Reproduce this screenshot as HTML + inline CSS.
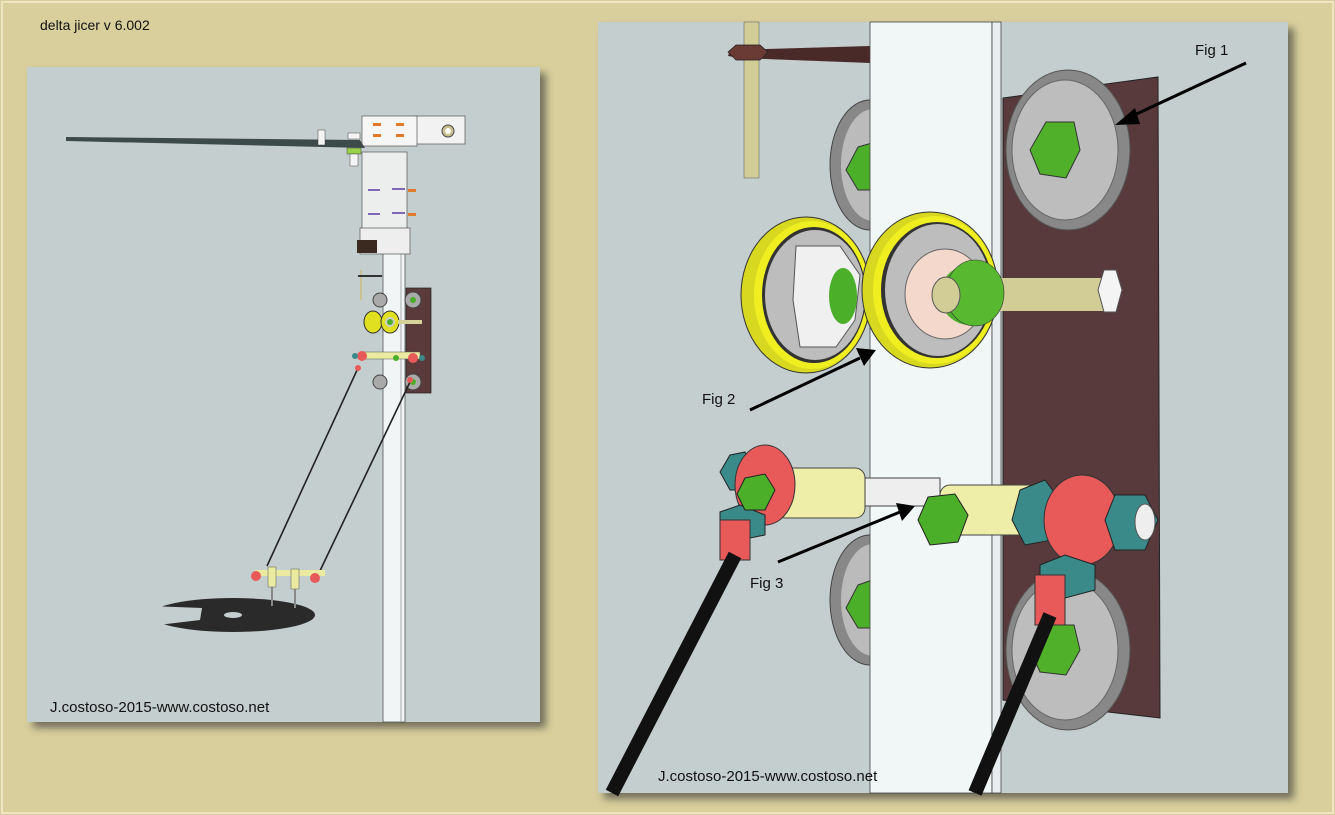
<!DOCTYPE html>
<html><head><style>
html,body{margin:0;padding:0;}
body{width:1335px;height:815px;background:#d8cf9c;position:relative;overflow:hidden;font-family:"Liberation Sans",sans-serif;}
</style></head><body>
<svg width="1335" height="815" viewBox="0 0 1335 815" xmlns="http://www.w3.org/2000/svg" style="position:absolute;left:0;top:0">
<defs>
<filter id="sh" x="-5%" y="-5%" width="115%" height="115%"><feGaussianBlur stdDeviation="4"/></filter>
</defs>
<rect x="0" y="0" width="1335" height="815" fill="#d8cf9c"/>
<rect x="2" y="2" width="1331" height="811" fill="none" stroke="#eee6c0" stroke-width="2"/>
<text x="40" y="30" font-size="14" fill="#111">delta jicer v 6.002</text>

<!-- left panel -->
<rect x="33" y="73" width="513" height="655" fill="#333" opacity="0.6" filter="url(#sh)"/>
<rect x="27" y="67" width="513" height="655" fill="#c5cecf"/>
<rect x="383" y="160" width="22" height="562" fill="#f1f5f6" stroke="#555" stroke-width="0.8"/>
<line x1="401" y1="160" x2="401" y2="722" stroke="#777" stroke-width="0.6"/>
<rect x="362" y="152" width="45" height="92" fill="#eceeee" stroke="#555" stroke-width="0.7"/>
<rect x="415" y="116" width="50" height="28" fill="#f2f2f2" stroke="#555" stroke-width="0.7"/>
<rect x="362" y="116" width="55" height="30" fill="#f6f6f6" stroke="#555" stroke-width="0.7"/>
<circle cx="448" cy="131" r="6" fill="#c8c090" stroke="#444"/>
<circle cx="448" cy="131" r="3" fill="#fff"/>
<polygon points="66,137 360,140 365,148 66,141" fill="#3d4a4a"/>
<rect x="318" y="130" width="7" height="15" fill="#f5f5f5" stroke="#444" stroke-width="0.5"/>
<rect x="348" y="133" width="12" height="6" fill="#f5f5f5" stroke="#444" stroke-width="0.5"/>
<rect x="347" y="148" width="14" height="6" fill="#9ad04a" stroke="#444" stroke-width="0.5"/>
<rect x="350" y="154" width="8" height="12" fill="#f5f5f5" stroke="#444" stroke-width="0.5"/>
<g fill="#e07a2a"><rect x="373" y="123" width="8" height="3"/><rect x="373" y="134" width="8" height="3"/><rect x="396" y="123" width="8" height="3"/><rect x="396" y="134" width="8" height="3"/><rect x="408" y="189" width="8" height="3"/><rect x="408" y="213" width="8" height="3"/><rect x="372" y="236" width="8" height="3"/><rect x="372" y="247" width="8" height="3"/></g>
<g stroke="#5a3aa0" stroke-width="1.5"><line x1="368" y1="190" x2="380" y2="190"/><line x1="392" y1="189" x2="405" y2="189"/><line x1="368" y1="214" x2="380" y2="214"/><line x1="392" y1="213" x2="405" y2="213"/></g>
<rect x="360" y="228" width="50" height="26" fill="#eeeeee" stroke="#555" stroke-width="0.7"/>
<rect x="357" y="240" width="20" height="13" fill="#3a2a20"/>
<line x1="361" y1="270" x2="361" y2="300" stroke="#c8c090" stroke-width="2"/>
<rect x="358" y="275" width="24" height="2" fill="#333"/>
<rect x="406" y="288" width="25" height="105" fill="#5a3a3a" stroke="#222" stroke-width="0.7"/>
<circle cx="413" cy="300" r="8" fill="#aaa" stroke="#444"/><circle cx="413" cy="300" r="3" fill="#4caf2a"/>
<circle cx="413" cy="382" r="8" fill="#aaa" stroke="#444"/><circle cx="413" cy="382" r="3" fill="#4caf2a"/>
<circle cx="380" cy="300" r="7" fill="#aaa" stroke="#444"/>
<circle cx="380" cy="382" r="7" fill="#aaa" stroke="#444"/>
<ellipse cx="373" cy="322" rx="9" ry="11" fill="#e0e020" stroke="#333"/>
<ellipse cx="390" cy="322" rx="9" ry="11" fill="#e0e020" stroke="#333"/>
<circle cx="390" cy="322" r="5" fill="#ccc"/><circle cx="390" cy="322" r="3" fill="#4caf2a"/>
<rect x="398" y="320" width="24" height="4" fill="#d6d09a"/>
<rect x="360" y="352" width="60" height="7" fill="#eaeaa0" stroke="#555" stroke-width="0.5"/>
<circle cx="362" cy="356" r="5" fill="#e85a5a"/><circle cx="413" cy="358" r="5" fill="#e85a5a"/>
<circle cx="396" cy="358" r="3" fill="#4caf2a"/>
<circle cx="422" cy="358" r="3" fill="#3a8a8a"/><circle cx="355" cy="356" r="3" fill="#3a8a8a"/>
<line x1="358" y1="368" x2="267" y2="566" stroke="#222" stroke-width="1.6"/>
<line x1="410" y1="382" x2="318" y2="575" stroke="#222" stroke-width="1.6"/>
<circle cx="358" cy="368" r="3" fill="#e85a5a"/><circle cx="410" cy="380" r="3" fill="#e85a5a"/>
<!-- effector -->
<ellipse cx="233" cy="615" rx="82" ry="17" fill="#2a2a2a"/>
<polygon points="150,606 202,608 200,620 150,626" fill="#c5cecf"/>
<polygon points="150,610 192,611 190,617 150,620" fill="#c5cecf"/>
<ellipse cx="233" cy="615" rx="9" ry="3" fill="#c5cecf"/>
<rect x="255" y="570" width="70" height="6" fill="#eaeaa0"/>
<circle cx="256" cy="576" r="5" fill="#e85a5a"/><circle cx="315" cy="578" r="5" fill="#e85a5a"/>
<rect x="268" y="567" width="8" height="20" fill="#eaeaa0" stroke="#555" stroke-width="0.5"/>
<rect x="291" y="569" width="8" height="20" fill="#eaeaa0" stroke="#555" stroke-width="0.5"/>
<line x1="272" y1="587" x2="272" y2="606" stroke="#888" stroke-width="2"/>
<line x1="295" y1="589" x2="295" y2="608" stroke="#888" stroke-width="2"/>
<text x="50" y="712" font-size="15" fill="#111">J.costoso-2015-www.costoso.net</text>

<!-- right panel -->
<rect x="604" y="28" width="690" height="771" fill="#333" opacity="0.6" filter="url(#sh)"/>
<rect x="598" y="22" width="690" height="771" fill="#c5cecf"/>
<rect x="744" y="22" width="15" height="156" fill="#d2cc96" stroke="#555" stroke-width="0.5"/>
<polygon points="730,50 870,46 870,63 740,58 728,56" fill="#4a2a28"/>
<polygon points="736,45 760,45 768,52 760,60 736,60 728,52" fill="#6a3a35" stroke="#222" stroke-width="0.7"/>
<ellipse cx="870" cy="165" rx="40" ry="65" fill="#888" stroke="#444"/>
<ellipse cx="873" cy="165" rx="32" ry="56" fill="#bbb"/>
<polygon points="858,147 872,143 880,160 872,190 858,190 846,170" fill="#4caf2a" stroke="#333"/>
<ellipse cx="870" cy="600" rx="40" ry="65" fill="#888" stroke="#444"/>
<ellipse cx="873" cy="600" rx="32" ry="56" fill="#bbb"/>
<polygon points="858,585 872,580 880,600 872,628 858,628 846,608" fill="#4caf2a" stroke="#333"/>
<rect x="870" y="22" width="122" height="771" fill="#f1f6f7" stroke="#444" stroke-width="0.8"/>
<rect x="992" y="22" width="9" height="771" fill="#e6eeef" stroke="#444" stroke-width="0.8"/>
<polygon points="1003,98 1158,77 1160,718 1003,700" fill="#583a3c" stroke="#222" stroke-width="1"/>
<ellipse cx="1068" cy="150" rx="62" ry="80" fill="#888" stroke="#555"/>
<ellipse cx="1065" cy="150" rx="53" ry="70" fill="#bdbdbd" stroke="#666"/>
<polygon points="1046,122 1074,122 1080,150 1066,178 1040,174 1030,150" fill="#50b02a" stroke="#333"/>
<ellipse cx="1068" cy="650" rx="62" ry="80" fill="#888" stroke="#555"/>
<ellipse cx="1065" cy="650" rx="53" ry="70" fill="#bdbdbd" stroke="#666"/>
<polygon points="1046,625 1074,625 1080,650 1066,675 1040,672 1030,650" fill="#50b02a" stroke="#333"/>
<ellipse cx="806" cy="295" rx="65" ry="78" fill="#d8d820" stroke="#333"/>
<ellipse cx="812" cy="295" rx="58" ry="74" fill="#eeee20"/>
<ellipse cx="814" cy="295" rx="52" ry="68" fill="#333"/>
<ellipse cx="815" cy="295" rx="50" ry="65" fill="#bdbdbd"/>
<polygon points="796,246 840,246 860,275 855,320 836,347 800,347 793,300" fill="#f0f0f0" stroke="#555"/>
<ellipse cx="843" cy="296" rx="14" ry="28" fill="#4caf2a"/>
<ellipse cx="930" cy="290" rx="68" ry="78" fill="#d8d820" stroke="#333"/>
<ellipse cx="935" cy="290" rx="62" ry="74" fill="#eeee20"/>
<ellipse cx="937" cy="290" rx="56" ry="68" fill="#333"/>
<ellipse cx="938" cy="290" rx="53" ry="66" fill="#bdbdbd"/>
<ellipse cx="945" cy="294" rx="40" ry="45" fill="#f4d8cc" stroke="#666"/>
<rect x="1000" y="278" width="104" height="33" fill="#d2cc96"/>
<polygon points="1104,270 1116,270 1122,290 1116,312 1104,312 1098,290" fill="#f4f4f4" stroke="#555"/>
<rect x="940" y="265" width="60" height="60" rx="30" fill="#4caf2a"/>
<ellipse cx="975" cy="293" rx="29" ry="33" fill="#58b830" stroke="#333" stroke-width="0.6"/>
<ellipse cx="946" cy="295" rx="14" ry="18" fill="#d2cc96" stroke="#555"/>
<rect x="810" y="478" width="130" height="28" fill="#eeeeee" stroke="#444"/>
<rect x="775" y="468" width="90" height="50" rx="10" fill="#eeeea8" stroke="#444"/>
<rect x="940" y="485" width="100" height="50" rx="10" fill="#eeeea8" stroke="#444"/>
<polygon points="730,455 745,452 752,470 745,490 730,490 720,472" fill="#3a8a8a" stroke="#222"/>
<ellipse cx="765" cy="485" rx="30" ry="40" fill="#e85a5a" stroke="#333"/>
<polygon points="720,512 740,505 765,515 765,535 740,540 720,530" fill="#3a8a8a" stroke="#222"/>
<polygon points="745,478 765,474 775,490 765,510 745,510 737,494" fill="#4caf2a" stroke="#222"/>
<polygon points="1020,490 1045,480 1060,500 1052,540 1025,545 1012,520" fill="#3a8a8a" stroke="#222"/>
<ellipse cx="1082" cy="520" rx="38" ry="45" fill="#e85a5a" stroke="#333"/>
<polygon points="1115,495 1145,495 1158,520 1145,550 1115,550 1105,520" fill="#3a8a8a" stroke="#222"/>
<ellipse cx="1145" cy="522" rx="10" ry="18" fill="#eee" stroke="#555"/>
<polygon points="1040,565 1065,555 1095,565 1095,590 1065,598 1040,588" fill="#3a8a8a" stroke="#222"/>
<polygon points="928,497 955,494 968,515 958,542 930,545 918,520" fill="#4caf2a" stroke="#222"/>
<rect x="720" y="520" width="30" height="40" fill="#e85a5a" stroke="#333"/>
<rect x="1035" y="575" width="30" height="50" fill="#e85a5a" stroke="#333"/>
<line x1="735" y1="555" x2="612" y2="793" stroke="#111" stroke-width="14"/>
<line x1="1050" y1="615" x2="975" y2="793" stroke="#111" stroke-width="14"/>
<g stroke="#000" stroke-width="3" fill="#000">
<line x1="1246" y1="63" x2="1130" y2="117"/><polygon points="1115,125 1135,108 1140,124" stroke="none"/>
<line x1="750" y1="410" x2="860" y2="358"/><polygon points="876,350 856,348 864,366" stroke="none"/>
<line x1="778" y1="562" x2="900" y2="512"/><polygon points="915,506 896,503 902,521" stroke="none"/>
</g>
<text x="1195" y="55" font-size="15" fill="#111">Fig 1</text>
<text x="702" y="404" font-size="15" fill="#111">Fig 2</text>
<text x="750" y="588" font-size="15" fill="#111">Fig 3</text>
<text x="658" y="781" font-size="15" fill="#111">J.costoso-2015-www.costoso.net</text>
</svg>
</body></html>
